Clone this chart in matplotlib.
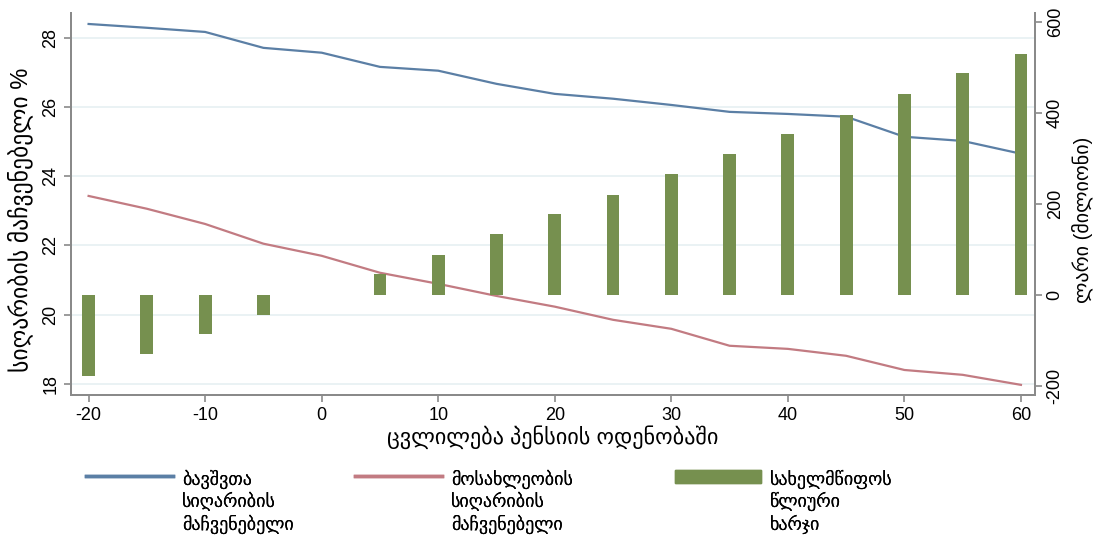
import matplotlib
matplotlib.use('Agg')
import matplotlib.pyplot as plt
import matplotlib.lines as mlines
import matplotlib.patches as mpatches
import numpy as np

plt.rcParams['font.family'] = ['Liberation Sans', 'DejaVu Sans']
plt.rcParams['axes.unicode_minus'] = False

# change in pension amount
pension_change = [-20, -15, -10, -5, 0, 5, 10, 15, 20, 25, 30, 35, 40, 45, 50, 55, 60]
# child poverty rate, %
child_poverty = [28.40, 28.29, 28.17, 27.71, 27.57, 27.16, 27.05, 26.67, 26.38,
                 26.24, 26.06, 25.86, 25.80, 25.72, 25.14, 25.02, 24.65]
# population poverty rate, %
pop_poverty = [23.43, 23.06, 22.62, 22.05, 21.70, 21.21, 20.89, 20.54, 20.23,
               19.85, 19.59, 19.10, 19.01, 18.81, 18.40, 18.26, 17.97]
# annual state expenditure, million GEL
state_spend = [-178, -130, -86, -44, 0, 46, 88, 134, 178, 220, 266, 310, 354,
               396, 442, 488, 530]

BLUE = '#5b7fa5'
RED = '#c27b82'
GREEN = '#76904f'
AXC = '#8a8a8a'
FS = 13

fig = plt.figure(figsize=(10.94, 5.38), dpi=100)
ax = fig.add_axes([0.065, 0.266, 0.881, 0.71])
ax2 = ax.twinx()

ax.plot(pension_change, child_poverty, color=BLUE, lw=1.6)
ax.plot(pension_change, pop_poverty, color=RED, lw=1.6)
ax2.bar(pension_change, state_spend, width=1.1, color=GREEN)

ax.set_xlim(-21.5, 61.2)
ax.set_ylim(17.68, 28.72)
ax2.set_ylim(-220, 620)
ax.set_xticks(range(-20, 61, 10))
ax.set_yticks(range(18, 29, 2))
ax2.set_yticks(range(-200, 601, 200))

for y in range(18, 29, 2):
    ax.axhline(y, color='#e6f0f2', lw=1.2, zorder=0)

for a in (ax, ax2):
    a.spines['top'].set_visible(False)
    for s in ('left', 'right', 'bottom'):
        a.spines[s].set_color(AXC)
        a.spines[s].set_linewidth(1.4)
    a.tick_params(axis='both', color=AXC, width=1.2, length=5, labelsize=13)
ax.tick_params(axis='y', labelrotation=90)
ax2.tick_params(axis='y', labelrotation=90)
for t in ax.get_yticklabels() + ax2.get_yticklabels():
    t.set_verticalalignment('center')

ax.set_xlabel('ცვლილება პენსიის ოდენობაში', fontsize=16, labelpad=1)
ax.set_ylabel('სიღარიბის მაჩვენებელი %', fontsize=17)
ax2.set_ylabel('ლარი (მილიონი)', fontsize=14.5)
ax.yaxis.set_label_coords(-0.040, 0.458)
ax2.yaxis.set_label_coords(1.038, 0.458)

# legend: three single-entry legends below the plot
entries = [
    (mlines.Line2D([], [], color=BLUE, lw=2.5), 'ბავშვთა\nსიღარიბის\nმაჩვენებელი', 0.072),
    (mlines.Line2D([], [], color=RED, lw=2.5), 'მოსახლეობის\nსიღარიბის\nმაჩვენებელი', 0.318),
    (mpatches.Patch(color=GREEN), 'სახელმწიფოს\nწლიური\nხარჯი', 0.610),
]
for h, lab, x0 in entries:
    leg = fig.legend(handles=[h], labels=[lab], loc='upper left',
                     bbox_to_anchor=(x0, 0.14), frameon=False, fontsize=FS,
                     handlelength=4.8, handletextpad=0.5, borderaxespad=0)
    # put the handle next to the first text line
    for col in leg._legend_handle_box.get_children():
        for row in col.get_children():
            row.align = 'top'
    fig.add_artist(leg)

fig.savefig('out.png', dpi=100)
